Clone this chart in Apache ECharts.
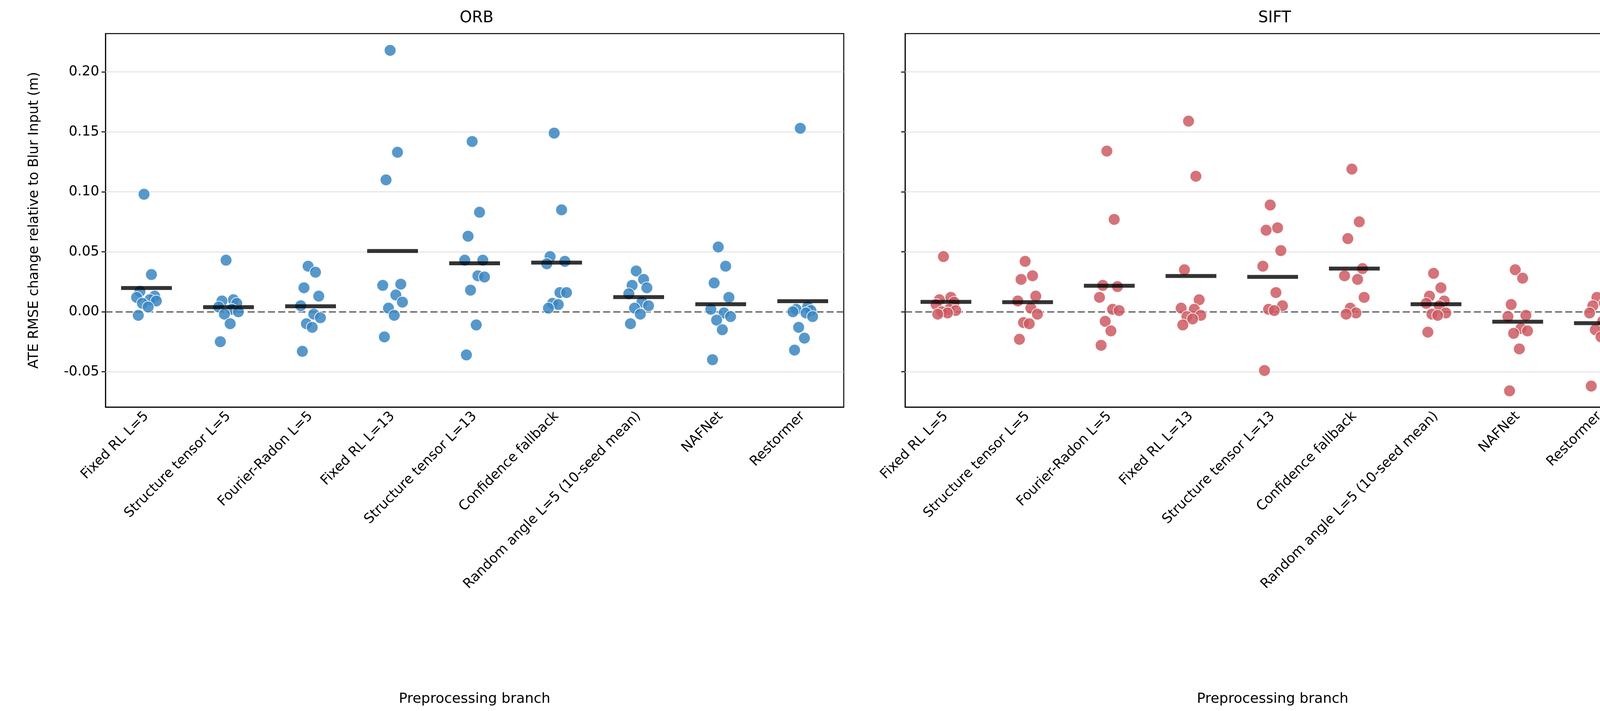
<!DOCTYPE html>
<html><head><meta charset="utf-8">
<script src="https://cdn.jsdelivr.net/npm/echarts@6/dist/echarts.min.js"></script>
<style>html,body{margin:0;padding:0;background:#fff}#c{width:4229px;height:1820px}</style>
</head><body><div id="c"></div>
<script>
const categories = ["Fixed RL L=5","Structure tensor L=5","Fourier-Radon L=5","Fixed RL L=13","Structure tensor L=13","Confidence fallback","Random angle L=5 (10-seed mean)","NAFNet","Restormer"];
const orbValues = [
  [0.098,0.031,0.017,0.013,0.012,0.010,0.009,0.007,0.004,-0.003],
  [0.043,0.010,0.009,0.007,0.004,0.002,0.000,-0.002,-0.010,-0.025],
  [0.038,0.033,0.020,0.013,0.005,-0.002,-0.005,-0.010,-0.013,-0.033],
  [0.218,0.133,0.110,0.023,0.022,0.014,0.008,0.003,-0.003,-0.021],
  [0.142,0.083,0.063,0.043,0.043,0.030,0.029,0.018,-0.011,-0.036],
  [0.149,0.085,0.046,0.042,0.040,0.016,0.016,0.007,0.006,0.003],
  [0.034,0.027,0.022,0.020,0.015,0.008,0.005,0.003,-0.002,-0.010],
  [0.054,0.038,0.024,0.012,0.002,-0.001,-0.004,-0.007,-0.015,-0.040],
  [0.153,0.004,0.002,0.001,0.000,-0.001,-0.004,-0.013,-0.022,-0.032]
];
const siftValues = [
  [0.046,0.012,0.010,0.008,0.006,0.002,0.001,0.000,-0.001,-0.002],
  [0.042,0.030,0.027,0.013,0.009,0.003,-0.002,-0.009,-0.010,-0.023],
  [0.134,0.077,0.022,0.021,0.012,0.002,0.001,-0.008,-0.016,-0.028],
  [0.159,0.113,0.035,0.010,0.003,0.002,-0.003,-0.004,-0.006,-0.011],
  [0.089,0.070,0.068,0.051,0.038,0.016,0.005,0.002,0.001,-0.049],
  [0.119,0.075,0.061,0.036,0.030,0.027,0.012,0.003,-0.001,-0.002],
  [0.032,0.020,0.013,0.009,0.007,0.005,-0.001,-0.002,-0.003,-0.017],
  [0.035,0.028,0.006,-0.003,-0.004,-0.014,-0.016,-0.018,-0.031,-0.066],
  [0.012,0.007,0.005,0.001,-0.001,-0.008,-0.013,-0.015,-0.021,-0.062]
];
const jitter = [-0.03,0.06,-0.08,0.1,-0.12,0.04,0.12,-0.05,0.02,-0.1];
const yTicks = [-0.05,0.00,0.05,0.10,0.15,0.20];

function pts(vals){const o=[];vals.forEach((arr,i)=>arr.forEach((v,j)=>o.push([i+jitter[j],v])));return o;}
function means(vals){return vals.map((arr,i)=>[i,arr.reduce((a,b)=>a+b,0)/arr.length]);}

const font='DejaVu Sans';
const grids=[{left:270,right:4229-2160,top:86,bottom:1820-1042},{left:2317,right:4229-4199,top:86,bottom:1820-1042}];
function catAxis(g){return {type:'category',gridIndex:g,data:categories,boundaryGap:true,
  name:'Preprocessing branch',nameLocation:'middle',nameGap:730,nameTextStyle:{fontFamily:font,fontSize:36,color:'#000'},
  axisLine:{show:true,onZero:false,lineStyle:{color:'#000',width:2.5}},axisTick:{alignWithLabel:true,length:10,lineStyle:{color:'#000',width:2.5}},
  axisLabel:{rotate:45,interval:0,fontFamily:font,fontSize:35,color:'#000',margin:18},splitLine:{show:false}};}
function valX(g){return {type:'value',gridIndex:g,min:-0.5,max:8.5,show:false,splitLine:{show:false}};}
function yAxis(g){return {type:'value',gridIndex:g,min:-0.0795,max:0.232,
  name:g===0?'ATE RMSE change relative to Blur Input (m)':'',nameLocation:'middle',nameGap:165,nameTextStyle:{fontFamily:font,fontSize:35,color:'#000'},
  axisLine:{show:true,onZero:false,lineStyle:{color:'#000',width:2.5}},
  axisTick:{show:true,length:10,customValues:yTicks,lineStyle:{color:'#000',width:2.5}},
  axisLabel:{show:g===0,customValues:yTicks,fontFamily:font,fontSize:35,color:'#000',margin:16,formatter:v=>Number(v).toFixed(2)},
  splitLine:{show:false}};}

function scatterSeries(g,vals,color){return [
  {type:'scatter',xAxisIndex:g*2+1,yAxisIndex:g,data:pts(vals),symbolSize:30,z:3,
   itemStyle:{color:color,opacity:0.85,borderColor:'#fff',borderWidth:2},
   markLine:{silent:true,symbol:'none',label:{show:false},z:1,
     data:[...yTicks.filter(t=>t!==0).map(t=>({yAxis:t,lineStyle:{color:'#dddddd',type:'solid',width:2}})),
           {yAxis:0,lineStyle:{color:'#555',type:[18,8],width:3}}]}},
  {type:'scatter',xAxisIndex:g*2+1,yAxisIndex:g,data:means(vals),symbol:'rect',symbolSize:[130,10],z:5,itemStyle:{color:'#000'}}
];}

const chart=echarts.init(document.getElementById('c'));
chart.setOption({
  animation:false,backgroundColor:'#fff',
  title:[{text:'ORB',left:1215,top:22,textAlign:'center',textStyle:{fontFamily:font,fontSize:40,fontWeight:'normal',color:'#000'}},
         {text:'SIFT',left:3258,top:22,textAlign:'center',textStyle:{fontFamily:font,fontSize:40,fontWeight:'normal',color:'#000'}}],
  grid:grids.map(g=>Object.assign({show:true,borderColor:'#000',borderWidth:2.5,backgroundColor:'transparent'},g)),
  xAxis:[catAxis(0),valX(0),catAxis(1),valX(1)],
  yAxis:[yAxis(0),yAxis(1)],
  series:[...scatterSeries(0,orbValues,'#3a86c2'),...scatterSeries(1,siftValues,'#cc5a62')]
});
</script></body></html>
